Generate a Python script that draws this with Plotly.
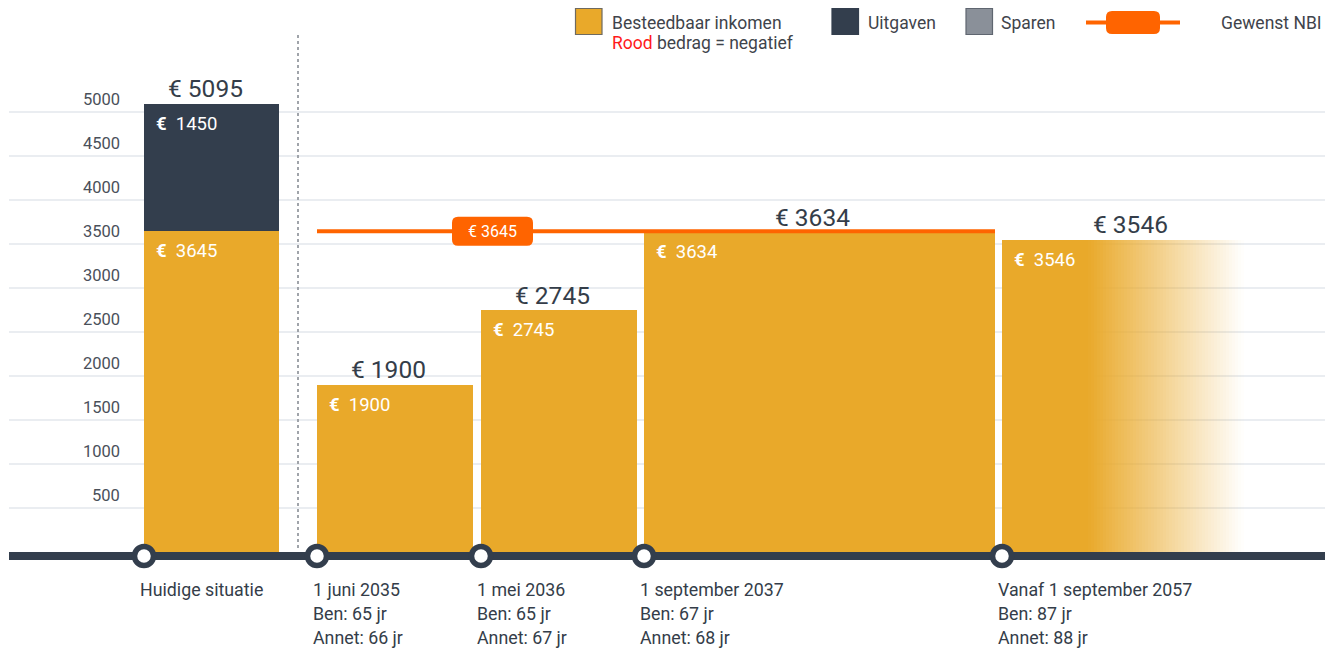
import plotly.graph_objects as go

# ---------------- data ----------------
categories = ["Huidige situatie", "1 juni 2035", "1 mei 2036", "1 september 2037", "Vanaf 1 september 2057"]
ben_age = [None, 65, 65, 67, 87]
annet_age = [None, 66, 67, 68, 88]
besteedbaar = [3645, 1900, 2745, 3634, 3546]
uitgaven = [1450, 0, 0, 0, 0]
gewenst_nbi = 3645
y_ticks = [500, 1000, 1500, 2000, 2500, 3000, 3500, 4000, 4500, 5000]

# ---------------- layout positions (pixels) ----------------
W, H = 1325, 648
Y0_PX = 552.0
PX_PER_UNIT = 0.088
bar_left = [144, 317, 481, 644, 1002]
bar_right = [279, 473, 637, 995, 1088]
fade_end = 1244
label_x = [205, 388, 552, 812, 1130]


def vy(py):
    return (Y0_PX - py) / PX_PER_UNIT


YELLOW = "#E9A92A"
DARK = "#333E4D"
GRAY = "#8A9099"
ORANGE = "#FF6400"
GRID = "#E3E7EC"
TEXT = "#343D49"
LEG_TEXT = "#3F444B"
FONT = "Roboto"

fig = go.Figure()

centers = [(l + r) / 2 for l, r in zip(bar_left, bar_right)]
widths = [r - l for l, r in zip(bar_left, bar_right)]

# besteedbaar inkomen bars
fig.add_trace(go.Bar(x=centers, y=besteedbaar, width=widths, base=0,
                     marker=dict(color=YELLOW, line=dict(width=0)),
                     hoverinfo="skip", showlegend=False))
# uitgaven stacked on top
fig.add_trace(go.Bar(x=centers, y=uitgaven, width=widths, base=besteedbaar,
                     marker=dict(color=DARK, line=dict(width=0)),
                     hoverinfo="skip", showlegend=False))

# fading tail of last bar
n_slices = 52
fs = bar_right[-1]
step = (fade_end - fs) / n_slices
fx, fw, fy, fc = [], [], [], []
for i in range(n_slices):
    x0 = fs + i * step
    fx.append(x0 + step / 2)
    fw.append(step)
    fy.append(besteedbaar[-1])
    a = max(0.0, 1 - (i + 0.5) / n_slices)
    fc.append(f"rgba(233,169,42,{a:.3f})")
fig.add_trace(go.Bar(x=fx, y=fy, width=fw, base=0,
                     marker=dict(color=fc, line=dict(width=0)),
                     hoverinfo="skip", showlegend=False))

shapes = []
annotations = []

# gridlines
for t in y_ticks:
    shapes.append(dict(type="line", xref="x", yref="y", x0=9, x1=W, y0=t, y1=t,
                       line=dict(color=GRID, width=1.5), layer="below"))
    annotations.append(dict(x=122, y=t, xref="x", yref="y", text=str(t), showarrow=False,
                            xanchor="right", yanchor="middle", yshift=13,
                            font=dict(family=FONT, size=16.5, color="#4A505A")))

# baseline
shapes.append(dict(type="line", xref="x", yref="y", x0=9, x1=W, y0=vy(556), y1=vy(556),
                   line=dict(color=DARK, width=8), layer="below"))

# dotted separator
shapes.append(dict(type="line", xref="x", yref="y", x0=298, x1=298, y0=vy(35), y1=vy(549),
                   line=dict(color="#A0A4AA", width=2, dash="dot"), layer="below"))

# NBI line
shapes.append(dict(type="line", xref="x", yref="y", x0=bar_left[1], x1=bar_right[3],
                   y0=gewenst_nbi, y1=gewenst_nbi, line=dict(color=ORANGE, width=4), layer="above"))


def rounded_rect(x0, x1, py0, py1, r):
    y0, y1 = vy(py1), vy(py0)
    ry = r / PX_PER_UNIT
    return (f"M {x0 + r},{y0} L {x1 - r},{y0} Q {x1},{y0} {x1},{y0 + ry} "
            f"L {x1},{y1 - ry} Q {x1},{y1} {x1 - r},{y1} L {x0 + r},{y1} "
            f"Q {x0},{y1} {x0},{y1 - ry} L {x0},{y0 + ry} Q {x0},{y0} {x0 + r},{y0} Z")


nbi_py = Y0_PX - gewenst_nbi * PX_PER_UNIT
shapes.append(dict(type="path", xref="x", yref="y",
                   path=rounded_rect(452, 533, nbi_py - 14.5, nbi_py + 14.5, 6),
                   fillcolor=ORANGE, line=dict(width=0), layer="above"))
annotations.append(dict(x=492.5, y=gewenst_nbi, xref="x", yref="y", text=f"€ {gewenst_nbi}",
                        showarrow=False, font=dict(family=FONT, size=16, color="white")))

# value labels
totals = [b + u for b, u in zip(besteedbaar, uitgaven)]
for i, tot in enumerate(totals):
    annotations.append(dict(x=label_x[i], y=tot, xref="x", yref="y", text=f"€ {tot}",
                            showarrow=False, yanchor="middle", yshift=15,
                            font=dict(family=FONT, size=24.5, color=TEXT)))
    annotations.append(dict(x=bar_left[i] + 10, y=besteedbaar[i], xref="x", yref="y",
                            text=f"<b>€</b>\u00a0\u00a0{besteedbaar[i]}", showarrow=False,
                            xanchor="left", yanchor="middle", yshift=-20,
                            font=dict(family=FONT, size=18.5, color="white")))
    if uitgaven[i]:
        annotations.append(dict(x=bar_left[i] + 10, y=tot, xref="x", yref="y",
                                text=f"<b>€</b>\u00a0\u00a0{uitgaven[i]}", showarrow=False,
                                xanchor="left", yanchor="middle", yshift=-20,
                                font=dict(family=FONT, size=18.5, color="white")))

# timeline labels
for i, cat in enumerate(categories):
    lines = [cat]
    if ben_age[i] is not None:
        lines.append(f"Ben: {ben_age[i]} jr")
        lines.append(f"Annet: {annet_age[i]} jr")
    for j, ln in enumerate(lines):
        annotations.append(dict(x=bar_left[i] - 6, y=vy(589 + 24 * j), xref="x", yref="y",
                                text=ln, showarrow=False, xanchor="left", yanchor="middle",
                                font=dict(family=FONT, size=17.8, color=TEXT)))

# timeline circles
fig.add_trace(go.Scatter(x=bar_left, y=[vy(556)] * len(bar_left), mode="markers",
                         marker=dict(size=19, color="white", line=dict(color=DARK, width=5.5)),
                         hoverinfo="skip", showlegend=False))

# ---------------- legend ----------------
def px_rect(x0, x1, py0, py1, fill, border):
    shapes.append(dict(type="rect", xref="x", yref="y", x0=x0, x1=x1, y0=vy(py1), y1=vy(py0),
                       fillcolor=fill, line=dict(color=border, width=1.2), layer="above"))


LEG_SIZE = 17.5
px_rect(575.5, 602, 8.5, 34.5, YELLOW, "#6E6A60")
annotations.append(dict(x=610, y=vy(22.5), xref="x", yref="y", text="Besteedbaar inkomen",
                        showarrow=False, xanchor="left", font=dict(family=FONT, size=LEG_SIZE, color=LEG_TEXT)))
annotations.append(dict(x=610, y=vy(43), xref="x", yref="y",
                        text="<span style='color:#FF1A1A'>Rood</span> bedrag = negatief",
                        showarrow=False, xanchor="left", font=dict(family=FONT, size=LEG_SIZE, color=LEG_TEXT)))
px_rect(832, 858.5, 8.5, 34.5, DARK, DARK)
annotations.append(dict(x=866, y=vy(22.5), xref="x", yref="y", text="Uitgaven",
                        showarrow=False, xanchor="left", font=dict(family=FONT, size=LEG_SIZE, color=LEG_TEXT)))
px_rect(966, 992.5, 8.5, 34.5, GRAY, "#5F6670")
annotations.append(dict(x=999, y=vy(22.5), xref="x", yref="y", text="Sparen",
                        showarrow=False, xanchor="left", font=dict(family=FONT, size=LEG_SIZE, color=LEG_TEXT)))
shapes.append(dict(type="line", xref="x", yref="y", x0=1086, x1=1180, y0=vy(22.5), y1=vy(22.5),
                   line=dict(color=ORANGE, width=4), layer="above"))
shapes.append(dict(type="path", xref="x", yref="y", path=rounded_rect(1106, 1160, 11, 34, 6),
                   fillcolor=ORANGE, line=dict(width=0), layer="above"))
annotations.append(dict(x=1324, y=vy(22.5), xref="x", yref="y", text="Gewenst NBI",
                        showarrow=False, xanchor="right", font=dict(family=FONT, size=LEG_SIZE, color=LEG_TEXT)))

fig.update_layout(
    width=W, height=H,
    margin=dict(l=0, r=0, t=0, b=0),
    paper_bgcolor="white", plot_bgcolor="white",
    barmode="overlay", bargap=0,
    xaxis=dict(range=[0, W], visible=False, fixedrange=True),
    yaxis=dict(range=[vy(H), vy(0)], visible=False, fixedrange=True),
    shapes=shapes, annotations=annotations,
    showlegend=False,
)

fig.write_html("out.html", config={"displayModeBar": False},
               post_script="document.body.style.margin='0';document.body.style.overflow='hidden';")
